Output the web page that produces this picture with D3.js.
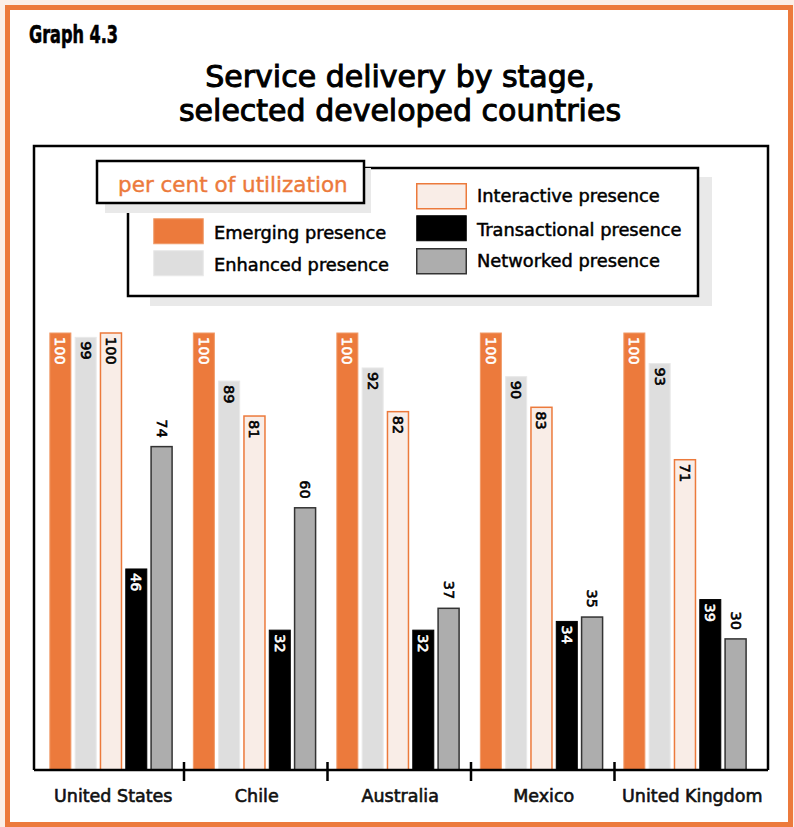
<!DOCTYPE html>
<html><head><meta charset="utf-8">
<script src="https://cdn.jsdelivr.net/npm/d3@7/dist/d3.min.js"></script>
<style>html,body{margin:0;padding:0;background:#fff}svg{display:block}</style>
</head><body>
<svg id="c" width="794" height="827"></svg>
<script>
const countries = ["United States","Chile","Australia","Mexico","United Kingdom"];
const seriesNames = ["Emerging presence","Enhanced presence","Interactive presence","Transactional presence","Networked presence"];
const emerging = [100,100,100,100,100];
const enhanced = [99,89,92,90,93];
const interactive = [100,81,82,83,71];
const transactional = [46,32,32,34,39];
const networked = [74,60,37,35,30];
const seriesValues = [emerging, enhanced, interactive, transactional, networked];

const ORANGE = "#ec7a3c";
const style = {
  "Emerging presence":      {fill: ORANGE,   stroke: "#f09a68", sw: 1,   label: "#fff", inside: true},
  "Enhanced presence":      {fill: "#dedede", stroke: "#e8e8e8", sw: 1,   label: "#000", inside: true},
  "Interactive presence":   {fill: "#f9ede7", stroke: ORANGE,   sw: 1.5, label: "#000", inside: true},
  "Transactional presence": {fill: "#000",    stroke: "#000",   sw: 1,   label: "#fff", inside: true},
  "Networked presence":     {fill: "#adadad", stroke: "#333",   sw: 1.5, label: "#000", inside: false}
};

const svg = d3.select("#c");
const FONT = "'DejaVu Sans', Verdana, sans-serif";

// outer background + orange border
svg.append("rect").attr("x",0).attr("y",0).attr("width",794).attr("height",827).attr("fill","#fbefe8");
svg.append("rect").attr("x",7.5).attr("y",7.5).attr("width",783).attr("height",817)
  .attr("fill","#fff").attr("stroke",ORANGE).attr("stroke-width",5);

// Graph label
svg.append("text").attr("x",29).attr("y",43).text("Graph 4.3")
  .attr("font-family","'Liberation Sans Narrow','DejaVu Sans Condensed',sans-serif")
  .attr("font-weight","bold").attr("font-size",25)
  .attr("textLength",89).attr("lengthAdjust","spacingAndGlyphs")
  .attr("fill","#000").attr("stroke","#000").attr("stroke-width",0.6);

// Title
const title = ["Service delivery by stage,","selected developed countries"];
svg.selectAll(".title").data(title).join("text")
  .attr("x",400).attr("y",(d,i)=>87+i*34).attr("text-anchor","middle")
  .attr("font-family",FONT).attr("font-size",30)
  .attr("fill","#000").attr("stroke","#000").attr("stroke-width",1.0).text(d=>d);

// Frame
const frame = {left:34, top:146, right:768, bottom:770};
svg.append("path")
  .attr("d",`M${frame.left},${frame.bottom}V${frame.top}H${frame.right}V${frame.bottom}`)
  .attr("fill","none").attr("stroke","#000").attr("stroke-width",2.5);

// Scales
const x = d3.scaleBand().domain(countries).range([40.5, 758]).padding(0);
const xi = d3.scaleBand().domain(seriesNames).range([0, x.bandwidth()])
  .paddingInner(0.17).paddingOuter(0.42).align(0.44);
const y = d3.scaleLinear().domain([0,100]).range([frame.bottom, 333]);

// Bars
const flat = [];
countries.forEach((c,ci)=>seriesNames.forEach((s,si)=>flat.push({c, s, v: seriesValues[si][ci]})));

const g = svg.append("g");
g.selectAll("rect.bar").data(flat).join("rect").attr("class","bar")
  .attr("x",d=>x(d.c)+xi(d.s))
  .attr("y",d=>y(d.v))
  .attr("width",xi.bandwidth())
  .attr("height",d=>y(0)-y(d.v))
  .attr("fill",d=>style[d.s].fill)
  .attr("stroke",d=>style[d.s].stroke)
  .attr("stroke-width",d=>style[d.s].sw);

// Value labels (rotated)
g.selectAll("text.val").data(flat).join("text").attr("class","val")
  .attr("transform",d=>{
    const cx = x(d.c)+xi(d.s)+xi.bandwidth()/2;
    const ty = style[d.s].inside ? y(d.v)+4 : y(d.v)-9;
    return `translate(${cx},${ty}) rotate(90)`;
  })
  .attr("text-anchor",d=>style[d.s].inside ? "start" : "end")
  .attr("dominant-baseline","central")
  .attr("font-family",FONT).attr("font-size",14.5)
  .attr("fill",d=>style[d.s].label)
  .attr("stroke",d=>style[d.s].label).attr("stroke-width",0.6)
  .text(d=>d.v);

// X axis line & ticks
svg.append("line").attr("x1",frame.left).attr("x2",frame.right)
  .attr("y1",frame.bottom).attr("y2",frame.bottom)
  .attr("stroke","#000").attr("stroke-width",2.5);
const tickPos = countries.slice(1).map(c=>x(c));
svg.selectAll("line.tick").data(tickPos).join("line").attr("class","tick")
  .attr("x1",d=>d).attr("x2",d=>d).attr("y1",762).attr("y2",781)
  .attr("stroke","#000").attr("stroke-width",2.5);
svg.selectAll("text.cat").data(countries).join("text").attr("class","cat")
  .attr("x",(d,i)=>x(d)+x.bandwidth()/2+(i===countries.length-1?6:1)).attr("y",802).attr("text-anchor","middle")
  .attr("font-family",FONT).attr("font-size",17.5)
  .attr("fill","#111").attr("stroke","#111").attr("stroke-width",0.6).text(d=>d);

// Legend
const lg = svg.append("g");
lg.append("rect").attr("x",150).attr("y",177).attr("width",562).attr("height",129).attr("fill","#e9e9e9");
lg.append("rect").attr("x",128).attr("y",168).attr("width",570).attr("height",128)
  .attr("fill","#fff").attr("stroke","#000").attr("stroke-width",2.5);
lg.append("rect").attr("x",105).attr("y",168).attr("width",266).attr("height",45).attr("fill","#e9e9e9");
lg.append("rect").attr("x",97).attr("y",161).attr("width",267).attr("height",42)
  .attr("fill","#fff").attr("stroke","#000").attr("stroke-width",2.5);
lg.append("text").attr("x",118).attr("y",192).text("per cent of utilization")
  .attr("font-family",FONT).attr("font-size",21.5)
  .attr("fill",ORANGE).attr("stroke",ORANGE).attr("stroke-width",0.4);

const legendPos = {
  "Emerging presence":      {x:153, y:218, ty:239},
  "Enhanced presence":      {x:153, y:250, ty:271},
  "Interactive presence":   {x:416, y:183, ty:202},
  "Transactional presence": {x:416, y:215, ty:236},
  "Networked presence":     {x:416, y:248, ty:267}
};
const li = lg.selectAll("g.li").data(seriesNames).join("g").attr("class","li");
li.append("rect")
  .attr("x",d=>legendPos[d].x+0.75).attr("y",d=>legendPos[d].y+0.75)
  .attr("width",49.5).attr("height",25)
  .attr("fill",d=>style[d].fill).attr("stroke",d=>style[d].stroke).attr("stroke-width",d=>style[d].sw);
li.append("text")
  .attr("x",d=>legendPos[d].x+61).attr("y",d=>legendPos[d].ty)
  .attr("font-family",FONT).attr("font-size",17.8)
  .attr("fill","#000").attr("stroke","#000").attr("stroke-width",0.5).text(d=>d);
</script>
</body></html>
